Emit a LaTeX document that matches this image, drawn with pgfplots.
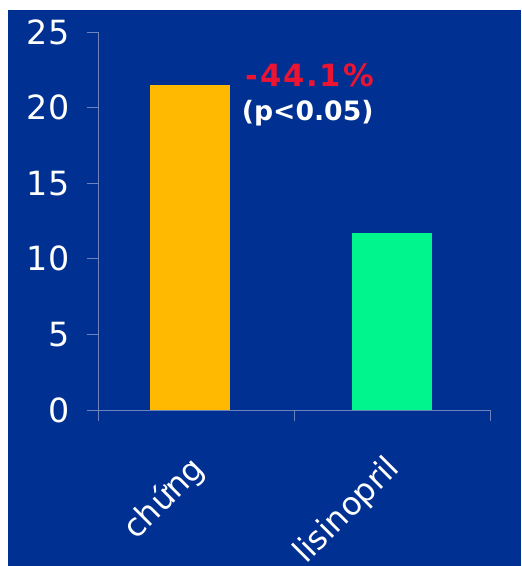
\documentclass[border=0pt]{standalone}
\usepackage{pgfplots}
\pgfplotsset{compat=1.18}
\usepackage{fontspec}
\setmainfont{DejaVu Sans}
\definecolor{bg}{RGB}{0,48,145}
\definecolor{barA}{RGB}{255,185,0}
\definecolor{barB}{RGB}{0,245,140}
\definecolor{axc}{RGB}{110,130,190}
\definecolor{redt}{RGB}{235,20,50}
\begin{document}
\begin{tikzpicture}
\useasboundingbox (0pt,0pt) rectangle (390.75pt,424.5pt);
\fill[white] (0pt,0pt) rectangle (390.75pt,424.5pt);
\fill[bg] (6pt,0pt) rectangle (390.75pt,417pt);
\begin{axis}[
  at={(73.5pt,117pt)}, anchor=south west,
  scale only axis, width=294pt, height=283.5pt,
  xmin=-0.5, xmax=1.5, ymin=0, ymax=25,
  axis x line*=bottom, axis y line*=left,
  axis line style={axc, line width=0.6pt},
  tick style={axc, line width=0.6pt},
  tick align=outside, major tick length=8pt,
  ytick={0,5,10,15,20,25},
  /pgf/number format/assume math mode=true,
  yticklabel style={font=\fontsize{25}{30}\selectfont, text=white, xshift=-10pt},
  xtick={-0.5,0.5,1.5}, xticklabels={},
  extra x ticks={0,1},
  extra x tick labels={chứng,lisinopril},
  extra x tick style={major tick length=0pt,
    xticklabel style={font=\fontsize{24}{28}\selectfont, text=white, xshift=-6pt, yshift=-27pt, rotate=45, anchor=north east}},
  clip=false,
]
\addplot[ybar, bar width=0.41, bar shift=0pt, fill=barA, draw=none] coordinates {(-0.03,21.5)};
\addplot[ybar, bar width=0.41, bar shift=0pt, fill=barB, draw=none] coordinates {(1,11.7)};
\node[text=redt, font=\bfseries\fontsize{23}{26}\selectfont\addfontfeature{LetterSpace=6}] at (axis cs:0.58,22.15) {-44.1\%};
\node[text=white, font=\bfseries\fontsize{20}{24}\selectfont] at (axis cs:0.57,19.6) {(p<0.05)};
\end{axis}
\end{tikzpicture}
\end{document}
